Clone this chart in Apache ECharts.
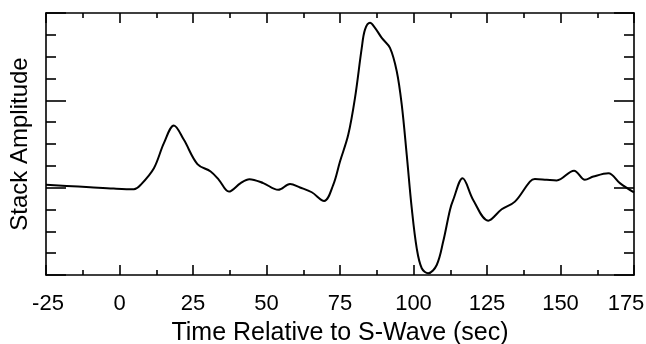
<!DOCTYPE html>
<html>
<head>
<meta charset="utf-8">
<script src="https://cdn.jsdelivr.net/npm/echarts@6/dist/echarts.min.js"></script>
<style>
html, body { margin: 0; padding: 0; background: #fff; }
#chart { width: 646px; height: 344px; }
</style>
</head>
<body>
<div id="chart"></div>
<script>
// time relative to S-wave (sec)
var times = [-25, -18, -10, -2, 4.9, 7.2, 11.7, 15.1, 18.5, 21.9, 26.5, 31.0, 33.8, 37.2, 41.2, 44.2,
    48.9, 54.0, 58.0, 61.4, 65.4, 69.6, 72.7, 75.0, 77.8, 80.1, 82.4, 83.5, 85.2, 86.9, 89.2, 92.0,
    94.3, 96.0, 97.7, 99.4, 101.1, 102.8, 105.0, 107.9, 110.1, 112.4, 113.5, 116.7, 120.3, 125.4,
    130.0, 134.5, 139.6, 141.3, 145.3, 148.7, 154.6, 158.3, 161.2, 166.3, 170.2, 175];
// stack amplitude (arbitrary units, 0..12 box)
var amps = [4.13, 4.08, 4.02, 3.96, 3.93, 4.13, 4.89, 6.04, 6.85, 6.19, 5.08, 4.74, 4.36, 3.82, 4.21, 4.39,
    4.21, 3.90, 4.17, 4.01, 3.79, 3.39, 4.13, 5.20, 6.42, 8.11, 10.40, 11.24, 11.55, 11.32, 10.86, 10.40,
    9.33, 7.80, 5.50, 3.06, 1.22, 0.31, 0.08, 0.46, 1.53, 2.98, 3.44, 4.43, 3.44, 2.49,
    3.01, 3.36, 4.28, 4.40, 4.36, 4.33, 4.78, 4.36, 4.51, 4.66, 4.21, 3.78];

var xMin = -25, xMax = 175, xStep = 25;
var yMin = 0, yMax = 12, yStep = 4;

var chart = echarts.init(document.getElementById('chart'));

var seriesData = [];
for (var i = 0; i < times.length; i++) {
    seriesData.push([times[i], amps[i]]);
}

var font = '"Liberation Sans", Arial, Helvetica, sans-serif';
var lineStyle = { color: '#000', width: 1.6 };

function xAx(pos, showLabels) {
    return {
        type: 'value', position: pos, min: xMin, max: xMax, interval: xStep,
        name: showLabels ? 'Time Relative to S-Wave (sec)' : '',
        nameLocation: 'middle', nameGap: 46,
        nameTextStyle: { fontFamily: font, fontSize: 25, color: '#000' },
        axisLine: { show: true, onZero: false, lineStyle: lineStyle },
        axisTick: { show: true, inside: true, length: 10, lineStyle: lineStyle },
        minorTick: { show: true, splitNumber: 2, length: 5, lineStyle: lineStyle },
        axisLabel: {
            show: showLabels, margin: 18, fontFamily: font, fontSize: 22, color: '#000',
            showMinLabel: true, showMaxLabel: true,
            // the end labels sit a little inside the frame, as in the original
            formatter: function (v) {
                if (v === xMax) return '{last|' + v + '}';
                if (v === xMin) return '{first|' + v + '}';
                return '' + v;
            },
            rich: {
                last: { fontFamily: font, fontSize: 22, color: '#000', padding: [0, 16, 0, 0] },
                first: { fontFamily: font, fontSize: 22, color: '#000', padding: [0, 0, 0, 4] }
            }
        },
        splitLine: { show: false }
    };
}

function yAx(pos, showName) {
    return {
        type: 'value', position: pos, min: yMin, max: yMax, interval: yStep,
        name: showName ? 'Stack Amplitude' : '',
        nameLocation: 'middle', nameGap: 14,
        nameTextStyle: { fontFamily: font, fontSize: 24, color: '#000' },
        axisLine: { show: true, onZero: false, lineStyle: lineStyle },
        axisTick: { show: true, inside: true, length: 20, lineStyle: lineStyle },
        minorTick: { show: true, splitNumber: 4, length: 10, lineStyle: lineStyle },
        axisLabel: { show: false },
        splitLine: { show: false }
    };
}

var option = {
    animation: false,
    backgroundColor: '#fff',
    grid: { left: 46, right: 12, top: 13, bottom: 69, containLabel: false, outerBoundsMode: 'none' },
    xAxis: [xAx('bottom', true), xAx('top', false)],
    yAxis: [yAx('left', true), yAx('right', false)],
    series: [{
        type: 'line',
        data: seriesData,
        smooth: 0.35,
        showSymbol: false,
        lineStyle: { color: '#000', width: 2 }
    }]
};

chart.setOption(option);
</script>
</body>
</html>
